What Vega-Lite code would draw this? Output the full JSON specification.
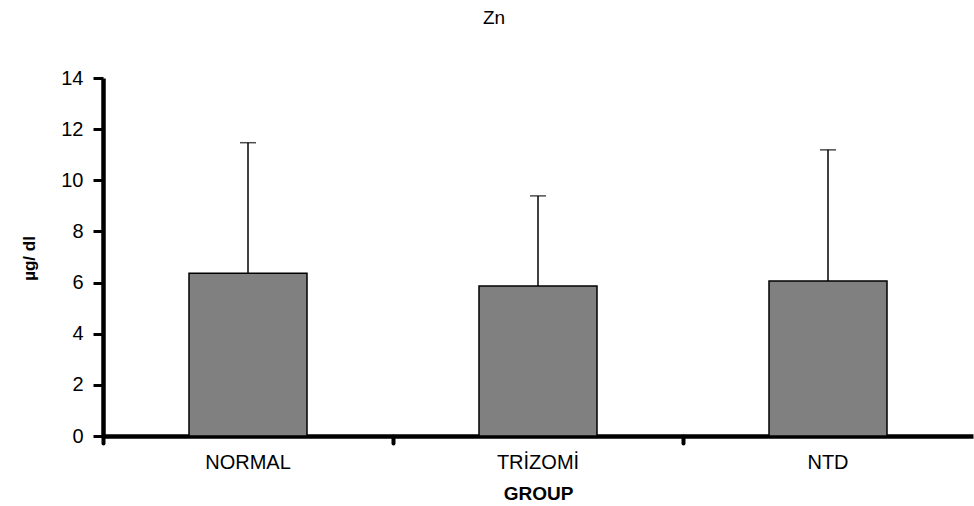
{
  "$schema": "https://vega.github.io/schema/vega-lite/v6.json",
  "width": 870,
  "height": 358,
  "autosize": {"type": "none"},
  "padding": {"left": 103, "top": 78, "right": 1, "bottom": 70},
  "background": "white",
  "config": {
    "view": {"stroke": null},
    "font": "Liberation Sans"
  },
  "title": {
    "text": "Zn",
    "fontSize": 19,
    "fontWeight": "normal",
    "color": "black",
    "anchor": "middle",
    "frame": "group",
    "dx": -44,
    "offset": 40
  },
  "data": {
    "values": [
      {"group": "NORMAL", "mean": 6.36, "upper": 11.47},
      {"group": "TRİZOMİ", "mean": 5.87, "upper": 9.39},
      {"group": "NTD", "mean": 6.06, "upper": 11.19}
    ]
  },
  "encoding": {
    "x": {
      "field": "group",
      "type": "nominal",
      "sort": null,
      "scale": {"paddingInner": 0, "paddingOuter": 0},
      "axis": {
        "title": "GROUP",
        "titleFontSize": 19,
        "titleFontWeight": "bold",
        "titleColor": "black",
        "titlePadding": 12,
        "labelAngle": 0,
        "labelFontSize": 20,
        "labelColor": "black",
        "labelPadding": 9,
        "domainColor": "black",
        "domainWidth": 4.5,
        "tickColor": "black",
        "tickWidth": 4,
        "tickSize": 7,
        "tickCap": "round",
        "bandPosition": 0
      }
    }
  },
  "layer": [
    {
      "mark": {"type": "bar", "size": 118, "fill": "#808080", "stroke": "black", "strokeWidth": 1.5},
      "encoding": {
        "y": {
          "field": "mean",
          "type": "quantitative",
          "scale": {"domain": [0, 14], "nice": false},
          "axis": {
            "title": "µg/ dl",
            "titleFontSize": 17,
            "titleFontWeight": "bold",
            "titleColor": "black",
            "titleBaseline": "middle",
            "titleX": -74,
            "titleY": 180,
            "values": [0, 2, 4, 6, 8, 10, 12, 14],
            "grid": false,
            "labelFontSize": 20,
            "labelColor": "black",
            "labelPadding": 10,
            "domainColor": "black",
            "domainWidth": 4.5,
            "tickColor": "black",
            "tickWidth": 3,
            "tickSize": 10
          }
        }
      }
    },
    {
      "mark": {"type": "rule", "color": "black", "strokeWidth": 1.5},
      "encoding": {
        "y": {"field": "mean", "type": "quantitative"},
        "y2": {"field": "upper"}
      }
    },
    {
      "mark": {"type": "tick", "color": "black", "size": 16, "thickness": 1.5, "orient": "horizontal"},
      "encoding": {
        "y": {"field": "upper", "type": "quantitative"}
      }
    }
  ]
}
